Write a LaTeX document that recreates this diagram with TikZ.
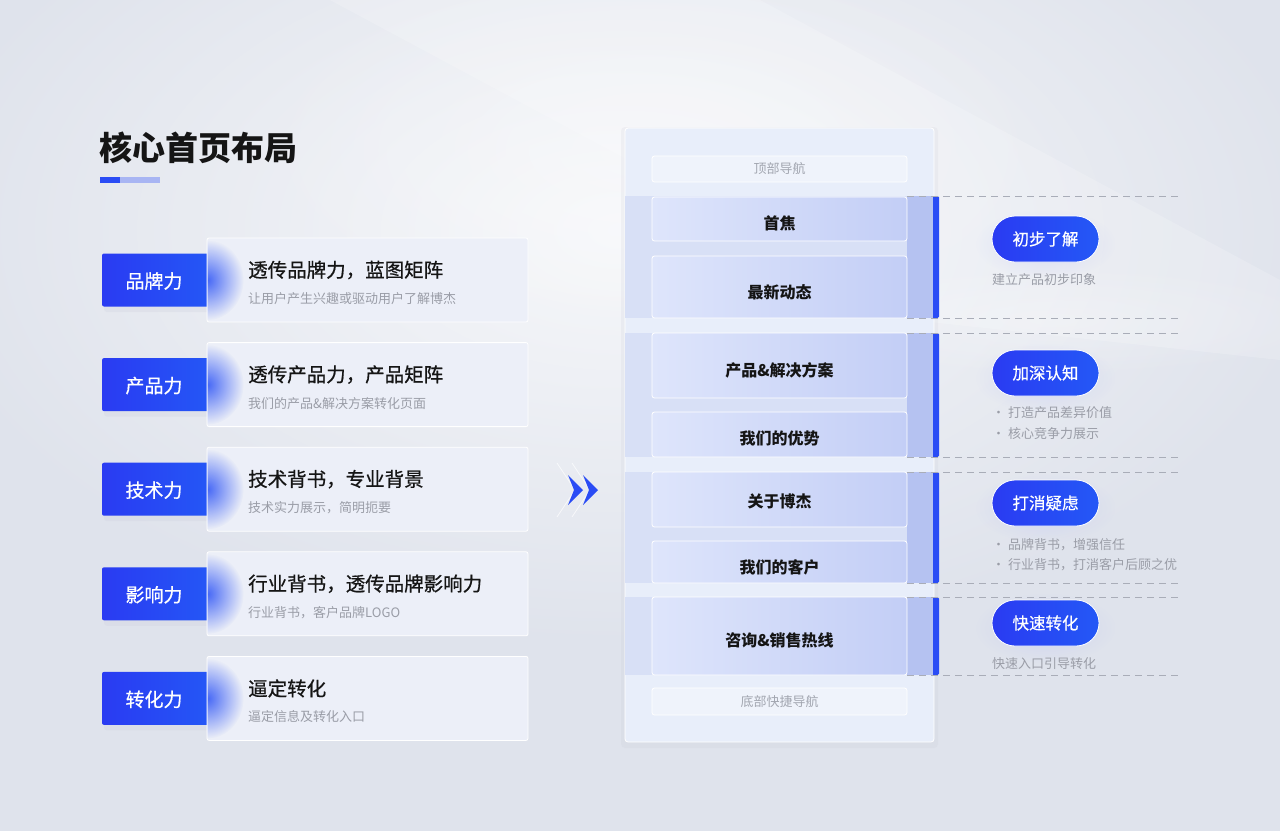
\documentclass[tikz,border=0pt]{standalone}
\usepackage{fontspec}
\setmainfont{Noto Sans CJK SC}
\usetikzlibrary{fadings}
\tikzfading[name=softfade, inner color=transparent!0, outer color=transparent!100]
\definecolor{bgc}{HTML}{DFE3EC}
\definecolor{cardc}{HTML}{ECEFF8}
\definecolor{labA}{HTML}{2A3BF2}
\definecolor{labB}{HTML}{2458F6}
\definecolor{glowc}{HTML}{3F62F6}
\definecolor{panelc}{HTML}{E8EEFA}
\definecolor{bandc}{HTML}{D8E0F6}
\definecolor{darkc}{HTML}{B5C2F1}
\definecolor{boxA}{HTML}{DEE5FB}
\definecolor{boxB}{HTML}{C3CEF6}
\definecolor{barc}{HTML}{2A4CF5}
\definecolor{dashc}{HTML}{A9ADB8}
\definecolor{greyt}{HTML}{9A9DA7}
\definecolor{navt}{HTML}{A2A6B0}
\definecolor{titlec}{HTML}{151515}
\definecolor{underB}{HTML}{A8B5F3}
\begin{document}
\begin{tikzpicture}[x=1pt,y=-1pt,
  card/.style={draw=white,line width=0.8pt,fill=cardc,rounded corners=2pt,minimum width=321pt,minimum height=84pt,inner sep=0pt},
  lab/.style={rounded corners=2pt,left color=labA,right color=labB,minimum width=113pt,minimum height=53pt,inner sep=0pt},
  labtxt/.style={text=white,font=\fontsize{19}{19}\selectfont\addfontfeature{FakeBold=0.6},inner sep=0pt},
  ctitle/.style={anchor=west,text=titlec,font=\fontsize{19.5}{20}\selectfont\addfontfeature{FakeBold=0.7},inner sep=0pt},
  csub/.style={anchor=west,text=greyt,font=\fontsize{13}{13}\selectfont,inner sep=0pt},
  mbox/.style={draw=white,line width=0.8pt,rounded corners=2.5pt,left color=boxA,right color=boxB,minimum width=255pt,inner sep=0pt},
  mtxt/.style={inner sep=0pt,text=titlec,font=\fontsize{16}{16}\selectfont\bfseries},
  navbox/.style={draw=white,line width=0.8pt,rounded corners=2.5pt,fill=panelc!70!white,minimum width=255pt,inner sep=0pt,text=navt,font=\fontsize{13}{13}\selectfont},
  pill/.style={draw=white,line width=0.8pt,rounded corners=23pt,left color=labA,right color=labB,minimum width=107pt,minimum height=46pt,inner sep=0pt,text=white,font=\fontsize{16.5}{16.5}\selectfont\addfontfeature{FakeBold=0.6}},
  captxt/.style={anchor=west,text=greyt,font=\fontsize{13}{13}\selectfont,inner sep=0pt},
  dline/.style={draw=dashc,line width=0.9pt,dash pattern=on 7pt off 5pt},
]
\useasboundingbox (0,0) rectangle (1280,831);
% background
\fill[bgc] (0,0) rectangle (1280,831);
\fill[white,opacity=0.75,path fading=softfade] (620,230) ellipse (720 and 420);
\fill[white,opacity=0.35,path fading=softfade] (650,150) ellipse (420 and 200);
\fill[white,opacity=0.18] (330,0) -- (760,0) -- (1280,280) -- (1280,360) -- (930,322) -- cycle;
\fill[white,opacity=0.25,path fading=softfade] (1050,320) ellipse (300 and 60);

% title
\node[anchor=west,inner sep=0pt,text=titlec,font=\fontsize{33}{33}\selectfont\bfseries] (title) at (99,148) {核心首页布局};
\fill[barc] (100,176.5) rectangle (120,182.5);
\fill[underB] (120,176.5) rectangle (160,182.5);

% left rows
\foreach \i/\lt/\tt/\st [count=\n] in {0/品牌力/透传品牌力，蓝图矩阵/让用户产生兴趣或驱动用户了解博杰,
  1/产品力/透传产品力，产品矩阵/我们的产品\&解决方案转化页面,
  2/技术力/技术背书，专业背景/技术实力展示，简明扼要,
  3/影响力/行业背书，透传品牌影响力/行业背书，客户品牌LOGO,
  4/转化力/逼定转化/逼定信息及转化入口}{
  \pgfmathsetmacro{\yc}{280+104.6*\i}
  \fill[labA!40!black!20,opacity=0.3,rounded corners=3pt] (104,\yc-22) rectangle (215,\yc+32);
  \node[lab] (lab\n) at (158.5,\yc) {};
  \node[card] (card\n) at (367.5,\yc) {};
  \begin{scope}
    \clip (207.6,\yc-41) rectangle (300,\yc+41);
    \fill[glowc,opacity=0.95,path fading=softfade] (207.6,\yc) ellipse (36 and 40);
  \end{scope}
  \node[labtxt] (labt\n) at (154,\yc+1) {\lt};
  \node[ctitle] (ct\n) at (248,\yc-10) {\tt};
  \node[csub] (cs\n) at (248,\yc+18.5) {\st};
}

% chevrons
\draw[white,line width=0.8pt,opacity=0.7] (557,463) -- (575,490) -- (557,517);
\draw[white,line width=0.8pt,opacity=0.7] (572,463) -- (590,490) -- (572,517);
\fill[barc] (568,475) -- (583,490) -- (568,505) -- (574,490) -- cycle;
\fill[barc] (583,475) -- (598,490) -- (583,505) -- (589,490) -- cycle;
\coordinate (chev) at (583,490);

% middle panel
\fill[labA!30!black!25,opacity=0.15,rounded corners=4pt] (621,127) rectangle (938,748);
\node[draw=white,line width=0.8pt,fill=panelc,rounded corners=3pt,minimum width=309pt,minimum height=614pt,inner sep=0pt] (panel) at (779.5,435) {};

% bands
\foreach \a/\b [count=\n] in {196/318,333/457,472/583,597/675}{
  \fill[bandc] (625.4,\a) rectangle (907,\b);
  \fill[darkc] (907,\a) rectangle (934,\b);
  \fill[barc,rounded corners=1.5pt] (933,\a) rectangle (939,\b);
  \fill[barc] (933,\a) rectangle (935,\b);
  \coordinate (bt\n) at (907,\a);
  \coordinate (bb\n) at (907,\b);
  \coordinate (et\n) at (1178,\a);
  \coordinate (eb\n) at (1178,\b);
  \draw[dline] (bt\n) -- (et\n);
  \draw[dline] (bb\n) -- (eb\n);
}

\node[navbox,minimum height=26pt] (topnav) at (779.5,169) {顶部导航};
\node[mbox,minimum height=44pt] (m1) at (779.5,219) {};
\node[mbox,minimum height=62pt] (m2) at (779.5,287) {};
\node[mbox,minimum height=65pt] (m3) at (779.5,365.5) {};
\node[mbox,minimum height=45pt] (m4) at (779.5,434.5) {};
\node[mbox,minimum height=55pt] (m5) at (779.5,499.5) {};
\node[mbox,minimum height=42pt] (m6) at (779.5,562) {};
\node[mbox,minimum height=78pt] (m7) at (779.5,636) {};
\node[navbox,minimum height=27pt] (botnav) at (779.5,701.5) {底部快捷导航};
\node[mtxt] (t1) at (m1.center |- 0,223) {首焦};
\node[mtxt] (t2) at (m2.center |- 0,292) {最新动态};
\node[mtxt] (t3) at (m3.center |- 0,370) {产品\&解决方案};
\node[mtxt] (t4) at (m4.center |- 0,438) {我们的优势};
\node[mtxt] (t5) at (m5.center |- 0,501) {关于博杰};
\node[mtxt] (t6) at (m6.center |- 0,567) {我们的客户};
\node[mtxt] (t7) at (m7.center |- 0,640) {咨询\&销售热线};

% pills
\foreach \y/\t [count=\n] in {239/初步了解,373/加深认知,503/打消疑虑,623/快速转化}{
  \fill[labA!40,opacity=0.3,path fading=softfade] (1045.5,\y+5) ellipse (70 and 35);
  \node[pill] (p\n) at (1045.5,\y) {\t};
}
\node[captxt] (c1) at (992,280) {建立产品初步印象};
\node[captxt] (c2a) at (992,413) {· 打造产品差异价值};
\node[captxt] (c2b) at (992,434) {· 核心竞争力展示};
\node[captxt] (c3a) at (992,545) {· 品牌背书，增强信任};
\node[captxt] (c3b) at (992,565) {· 行业背书，打消客户后顾之优};
\node[captxt] (c4) at (992,664) {快速入口引导转化};
\end{tikzpicture}
\end{document}
